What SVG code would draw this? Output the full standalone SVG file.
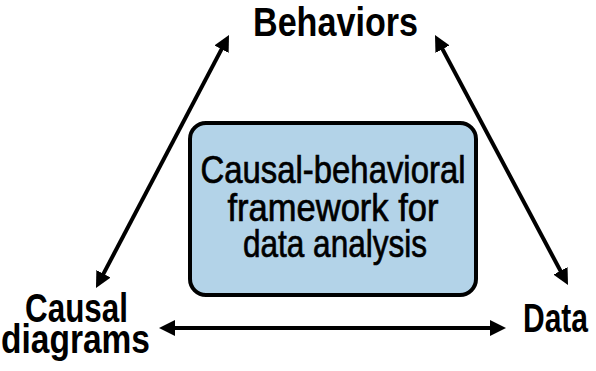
<svg xmlns="http://www.w3.org/2000/svg" width="596" height="371" viewBox="0 0 596 371">
  <style>
    .lbl { font-family: "Liberation Sans", Arial, sans-serif; font-size: 41px; font-weight: bold; fill: #000; text-anchor: middle; }
    .box-text { font-family: "Liberation Sans", Arial, sans-serif; font-size: 39px; fill: #000; stroke: #000; stroke-width: 0.7; text-anchor: middle; }
    .conn { stroke: #000; stroke-width: 4; fill: none; marker-start: url(#ah); marker-end: url(#ah); }
  </style>
  <defs>
    <marker id="ah" markerUnits="userSpaceOnUse" markerWidth="16" markerHeight="16" refX="6" refY="8" orient="auto-start-reverse" viewBox="0 0 16 16">
      <path d="M0,0 L16,8 L0,16 z" fill="#000"/>
    </marker>
  </defs>
  <rect width="596" height="371" fill="#fff"/>
  <g id="connectors">
    <line class="conn" x1="224.35" y1="43.85" x2="100.65" y2="279.15"/>
    <line class="conn" x1="439.70" y1="43.83" x2="563.30" y2="276.17"/>
    <line class="conn" x1="169" y1="328" x2="496" y2="328"/>
  </g>
  <g id="framework">
    <rect x="190" y="123" width="286" height="172" rx="16" ry="16" fill="#b3d3e8" stroke="#000" stroke-width="4"/>
    <text class="box-text" x="333" y="183" textLength="265" lengthAdjust="spacingAndGlyphs">Causal-behavioral</text>
    <text class="box-text" x="333" y="221" textLength="211" lengthAdjust="spacingAndGlyphs">framework for</text>
    <text class="box-text" x="335" y="257" textLength="184" lengthAdjust="spacingAndGlyphs">data analysis</text>
  </g>
  <g id="behaviors">
    <text class="lbl" x="335.5" y="36" textLength="165" lengthAdjust="spacingAndGlyphs">Behaviors</text>
  </g>
  <g id="causal-diagrams">
    <text class="lbl" x="76.5" y="322" textLength="103" lengthAdjust="spacingAndGlyphs">Causal</text>
    <text class="lbl" x="75.5" y="353" textLength="149" lengthAdjust="spacingAndGlyphs">diagrams</text>
  </g>
  <g id="data">
    <text class="lbl" x="555.5" y="332" textLength="65" lengthAdjust="spacingAndGlyphs">Data</text>
  </g>
</svg>
